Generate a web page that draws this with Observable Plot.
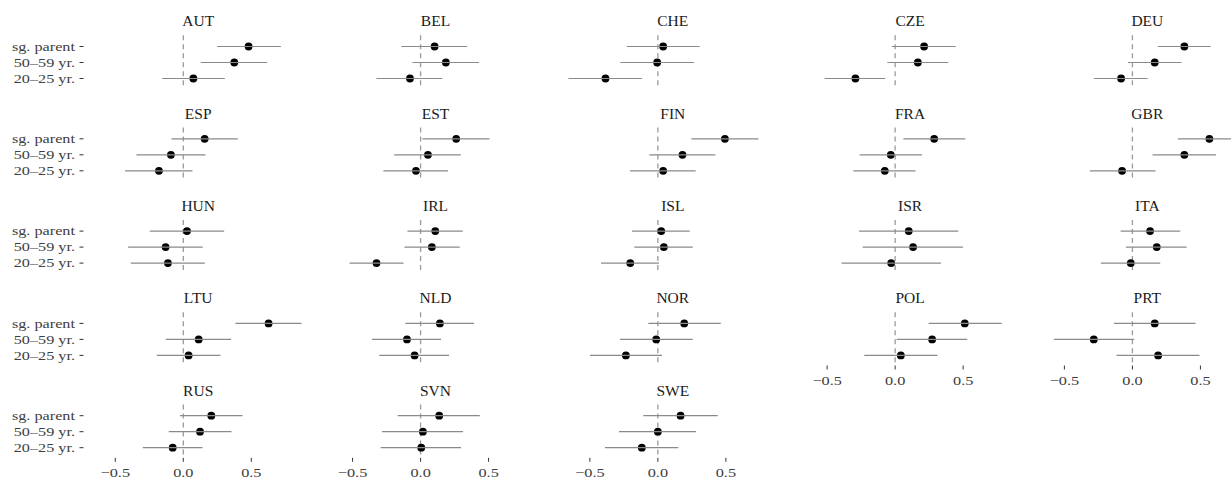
<!DOCTYPE html>
<html>
<head>
<meta charset="utf-8">
<script src="https://cdn.jsdelivr.net/npm/d3@7"></script>
<script src="https://cdn.jsdelivr.net/npm/@observablehq/plot@0.6"></script>
<style>
  html, body { margin: 0; padding: 0; background: white; overflow: hidden; }
  #chart svg { display: block; }
</style>
</head>
<body>
<div id="chart"></div>
<script>
// Countries (panels), in reading order
const countries = ["AUT","BEL","CHE","CZE","DEU","ESP","EST","FIN","FRA","GBR","HUN","IRL","ISL","ISR","ITA","LTU","NLD","NOR","POL","PRT","RUS","SVN","SWE"];
// Categories (y), top to bottom
const categories = ["sg. parent", "50–59 yr.", "20–25 yr."];
// Point estimates per country: [sg. parent, 50–59 yr., 20–25 yr.]
const estimate = [
  [0.480, 0.375, 0.074], [0.103, 0.186, -0.078], [0.039, -0.005, -0.385], [0.213, 0.167, -0.292], [0.382, 0.164, -0.083],
  [0.157, -0.091, -0.179], [0.262, 0.054, -0.034], [0.493, 0.181, 0.039], [0.287, -0.032, -0.076], [0.566, 0.382, -0.076],
  [0.027, -0.130, -0.113], [0.108, 0.083, -0.324], [0.025, 0.044, -0.203], [0.100, 0.132, -0.029], [0.130, 0.179, -0.012],
  [0.627, 0.113, 0.039], [0.142, -0.100, -0.044], [0.194, -0.012, -0.235], [0.512, 0.272, 0.042], [0.164, -0.284, 0.189],
  [0.206, 0.123, -0.078], [0.137, 0.017, 0.005], [0.167, 0.000, -0.118]
];
// Lower bounds
const lower = [
  [0.252, 0.132, -0.152], [-0.138, -0.056, -0.321], [-0.225, -0.272, -0.654], [-0.020, -0.054, -0.515], [0.191, -0.029, -0.279],
  [-0.083, -0.341, -0.424], [0.017, -0.190, -0.270], [0.250, -0.059, -0.201], [0.064, -0.257, -0.304], [0.338, 0.152, -0.309],
  [-0.243, -0.402, -0.382], [-0.093, -0.115, -0.518], [-0.186, -0.169, -0.414], [-0.262, -0.235, -0.390], [-0.083, -0.044, -0.228],
  [0.387, -0.125, -0.191], [-0.108, -0.354, -0.300], [-0.066, -0.275, -0.495], [0.250, 0.015, -0.223], [-0.132, -0.574, -0.113],
  [-0.020, -0.103, -0.294], [-0.165, -0.280, -0.290], [-0.103, -0.282, -0.385]
];
// Upper bounds
const upper = [
  [0.721, 0.620, 0.309], [0.346, 0.434, 0.164], [0.311, 0.270, -0.113], [0.449, 0.395, -0.069], [0.578, 0.365, 0.115],
  [0.404, 0.167, 0.071], [0.510, 0.299, 0.206], [0.743, 0.426, 0.282], [0.520, 0.201, 0.154], [0.794, 0.618, 0.174],
  [0.304, 0.147, 0.162], [0.314, 0.292, -0.121], [0.238, 0.260, 0.012], [0.468, 0.502, 0.341], [0.355, 0.402, 0.208],
  [0.873, 0.355, 0.277], [0.397, 0.154, 0.213], [0.466, 0.260, 0.034], [0.787, 0.534, 0.314], [0.468, 0.017, 0.497],
  [0.439, 0.358, 0.145], [0.439, 0.316, 0.301], [0.444, 0.284, 0.154]
];
// X tick values
const xTicks = [-0.5, 0, 0.5];

const NCOL = 5;
const panels = countries.map((c, i) => ({country: c, col: i % NCOL, row: Math.floor(i / NCOL)}));
const rows = panels.flatMap((p, i) => categories.map((cat, j) => ({
  ...p, cat, est: estimate[i][j], lo: lower[i][j], hi: upper[i][j]
})));

const fmt = d => (d < 0 ? "\u2212" : "") + Math.abs(d).toFixed(1);

const chart = Plot.plot({
  width: 1231,
  height: 479,
  marginLeft: 83.5,
  marginRight: 0,
  marginTop: 35.3,
  marginBottom: 21.2,
  style: {fontFamily: "'Liberation Serif', 'Times New Roman', serif", background: "white", overflow: "hidden"},
  fx: {domain: [0, 1, 2, 3, 4], range: [83.5, 1261], paddingInner: 0.0375, paddingOuter: 0, round: false, axis: null},
  fy: {domain: [0, 1, 2, 3, 4], range: [35.3, 457.8], paddingInner: 0.4225, paddingOuter: 0, round: false, axis: null},
  x: {domain: [-0.730, 0.949]},
  y: {type: "point", domain: categories, padding: 0.6},
  marks: [
    Plot.ruleX(panels, {x: () => 0, fx: "col", fy: "row", stroke: "#9a9a9a", strokeWidth: 1.3, strokeDasharray: "5,4"}),
    Plot.dot(rows, {x: "est", y: "cat", fx: "col", fy: "row", r: 3.9, fill: "black", stroke: null}),
    Plot.ruleY(rows, {y: "cat", x1: "lo", x2: "hi", fx: "col", fy: "row", stroke: "#8a8a8a", strokeWidth: 1.2}),
    Plot.text(panels, {text: "country", fx: "col", fy: "row", frameAnchor: "top", lineAnchor: "middle", dy: -14.3, fontSize: 15.5, fill: "#1a1a1a"}),
    Plot.axisY({facetAnchor: "left-empty", tickSize: 4, tickPadding: 5, fontSize: 13.3, stroke: "#333", fill: "#404040", label: null}),
    Plot.axisX(xTicks, {facetAnchor: "bottom-empty", tickSize: 4, tickPadding: 6, fontSize: 12.5, stroke: "#333", fill: "#404040", tickFormat: fmt, label: null})
  ]
});
document.getElementById("chart").appendChild(chart);

// Widen the axis tick labels to match the reference's wide-set glyphs
function stretch(selector, factor) {
  document.querySelectorAll(selector).forEach(t => {
    const L = t.getComputedTextLength();
    if (L > 0) {
      t.setAttribute("textLength", (L * factor).toFixed(2));
      t.setAttribute("lengthAdjust", "spacingAndGlyphs");
    }
  });
}
stretch('g[aria-label="y-axis tick label"] text', 1.22);
stretch('g[aria-label="x-axis tick label"] text', 1.3);
</script>
</body>
</html>
